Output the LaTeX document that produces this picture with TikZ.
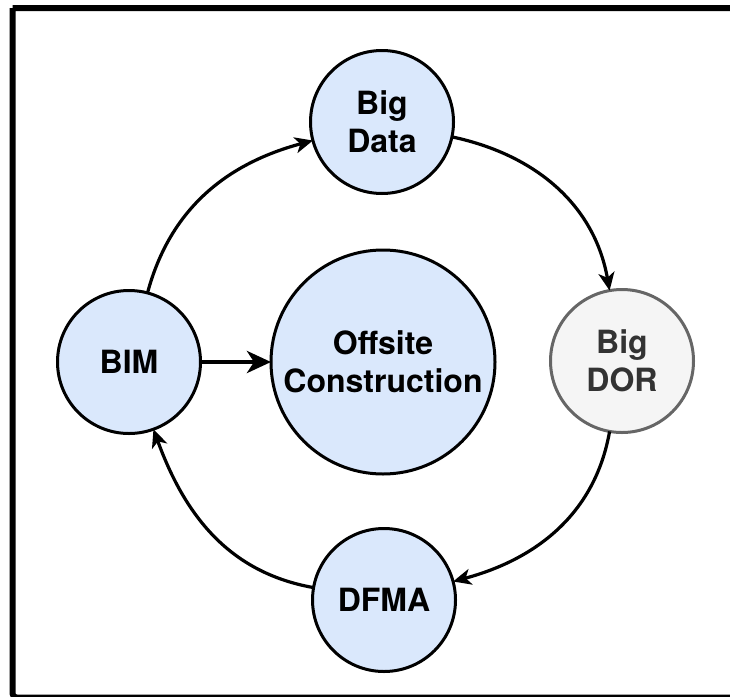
\documentclass[tikz,border=0pt]{standalone}
\usepackage{fontspec}
\setmainfont{TeX Gyre Heros}
\usetikzlibrary{arrows.meta}

\definecolor{bubblefill}{HTML}{DAE8FC}
\definecolor{greyfill}{HTML}{F5F5F5}
\definecolor{greyline}{HTML}{666666}
\definecolor{greytext}{HTML}{333333}

\tikzset{
	bubble/.style={circle, draw=black, line width=3pt, fill=bubblefill, minimum size=143pt,
		inner sep=0pt, outer sep=0pt, align=center},
	greybubble/.style={bubble, draw=greyline, fill=greyfill, text=greytext},
	cycle/.style={line width=3.2pt, -{Stealth[length=18pt, width=16pt, inset=5pt]}},
	feed/.style={line width=4.8pt, -{Stealth[length=24pt, width=22pt, inset=7pt]}}
}

\begin{document}
\begin{tikzpicture}[x=1pt, y=1pt, font=\fontsize{32}{38}\selectfont\bfseries]
	\useasboundingbox (0,0) rectangle (730,-696);
	\clip (0,0) rectangle (730,-696);
	% frame, only its left and top sides show
	\draw[line width=6pt, rounded corners=4pt] (12.5,-8) -- (800,-8) (12.5,-8) -- (12.5,-697.5) -- (800,-697.5);

	\node[bubble] (bim) at (129,-362) {BIM};
	\node[bubble, minimum size=224pt] (offsite) at (383,-362) {Offsite\\Construction};
	\node[bubble] (bigdata) at (382,-122) {Big\\Data};
	\node[greybubble] (bigdor) at (622,-361) {Big\\DOR};
	\node[bubble] (dfma) at (384,-600) {DFMA};

	% the cycle round the middle
	\draw[cycle] (bim) to[out=75, in=195] (bigdata);
	\draw[cycle] (bigdata) to[out=-12, in=100] (bigdor);
	\draw[cycle] (bigdor) to[out=-100, in=15] (dfma);
	\draw[cycle] (dfma) to[out=170, in=290] (bim);

	\draw[feed] (bim) -- (offsite);
\end{tikzpicture}
\end{document}
